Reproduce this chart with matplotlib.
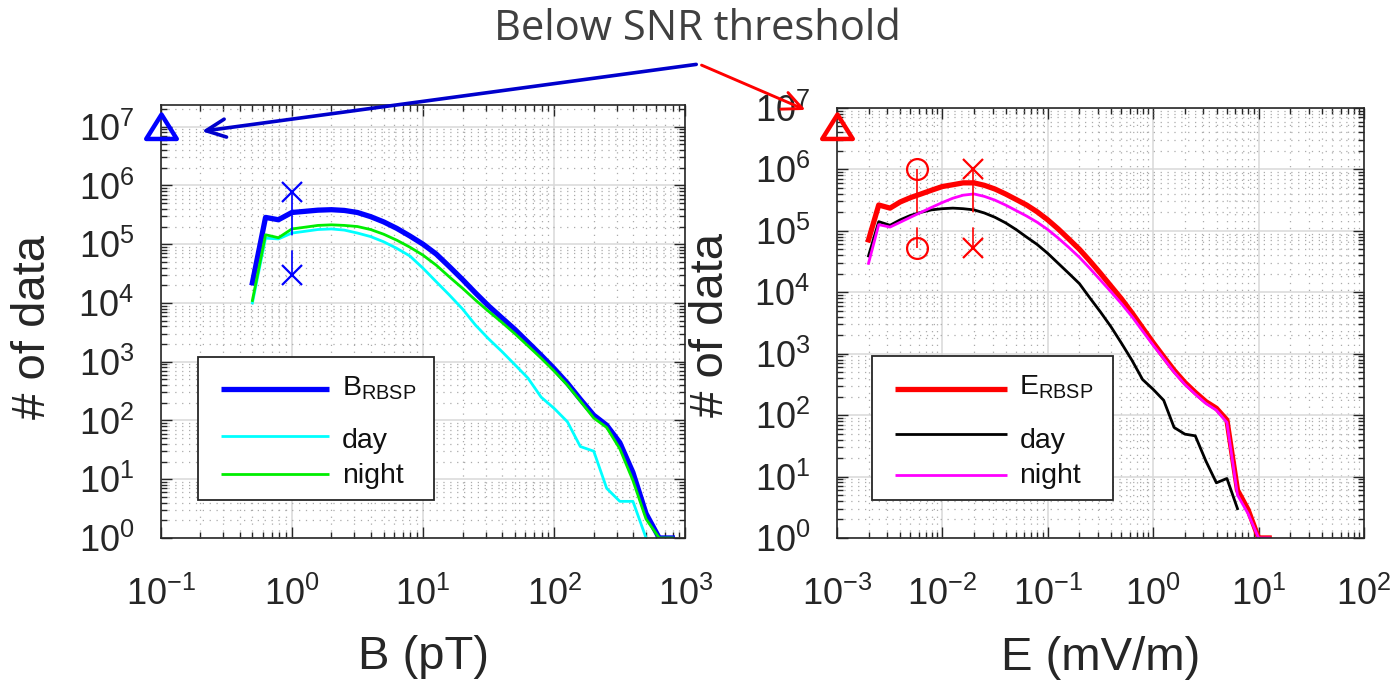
import matplotlib
matplotlib.use("Agg")
import numpy as np
import matplotlib.pyplot as plt
from matplotlib.path import Path
from matplotlib.lines import Line2D
from matplotlib.patches import Rectangle, FancyArrowPatch
from matplotlib.ticker import FixedLocator, LogLocator, NullFormatter

plt.rcParams['font.family'] = ['Liberation Sans', 'DejaVu Sans']
plt.rcParams['mathtext.fontset'] = 'custom'
plt.rcParams['mathtext.rm'] = 'Liberation Sans'
plt.rcParams['mathtext.it'] = 'Liberation Sans:italic'
plt.rcParams['mathtext.bf'] = 'Liberation Sans:bold'
plt.rcParams['mathtext.sf'] = 'Liberation Sans'
plt.rcParams['mathtext.default'] = 'regular'

# ---------------- magnetic field amplitude histogram ----------------
b_amp = [0.50, 0.63, 0.79, 1.00, 1.26, 1.58, 2.00, 2.51, 3.16, 3.98, 5.01,
         6.31, 7.94, 10.0, 12.6, 15.8, 20.0, 25.1, 31.6, 39.8, 50.1, 63.1,
         79.4, 100, 126, 158, 200, 251, 316, 398, 501, 631, 794]
b_all = [2.2e4, 2.86e5, 2.61e5, 3.47e5, 3.63e5, 3.8e5, 3.87e5, 3.76e5, 3.47e5,
         2.95e5, 2.4e5, 1.86e5, 1.38e5, 1.0e5, 6.8e4, 4.2e4, 2.5e4, 1.48e4,
         8.9e3, 5.6e3, 3.55e3, 2.14e3, 1.29e3, 760, 430, 230, 123, 83, 42, 13,
         2.6, 1, 1]
b_day = [1.0e4, 1.27e5, 1.23e5, 1.55e5, 1.66e5, 1.78e5, 1.82e5, 1.74e5, 1.55e5,
         1.35e5, 1.1e5, 8.5e4, 6.3e4, 3.9e4, 2.3e4, 1.38e4, 7.9e3, 4.2e3,
         2.45e3, 1.5e3, 890, 525, 250, 160, 95, 36, 30, 7, 4.2, 4.2, 1,
         np.nan, np.nan]
b_night = [1.1e4, 1.45e5, 1.29e5, 1.82e5, 1.95e5, 2.09e5, 2.14e5, 2.09e5, 2.0e5,
           1.78e5, 1.48e5, 1.17e5, 8.9e4, 6.5e4, 4.4e4, 2.8e4, 1.78e4, 1.12e4,
           7.2e3, 4.7e3, 3.0e3, 1.86e3, 1.15e3, 690, 400, 214, 110, 76, 33, 9.5,
           2.1, 1, 1]
b_snr_amp = 1.0
b_snr_counts = [7.8e5, 3.0e4]
b_below_amp = 0.1
b_below_count = 1.0e7

# ---------------- electric field amplitude histogram ----------------
e_amp = [0.0020, 0.0025, 0.0032, 0.0040, 0.0050, 0.0063, 0.0079, 0.0100,
         0.0126, 0.0158, 0.0200, 0.0251, 0.0316, 0.0398, 0.0501, 0.0631,
         0.0794, 0.100, 0.126, 0.158, 0.200, 0.251, 0.316, 0.398, 0.501,
         0.631, 0.794, 1.00, 1.26, 1.58, 2.00, 2.51, 3.16, 3.98, 5.01, 6.31,
         7.94, 10.0, 12.6]
e_all = [7.1e4, 2.63e5, 2.34e5, 2.95e5, 3.47e5, 3.98e5, 4.57e5, 5.25e5, 5.62e5,
         6.03e5, 6.03e5, 5.5e5, 4.79e5, 3.98e5, 3.24e5, 2.63e5, 2.04e5, 1.51e5,
         1.07e5, 7.4e4, 5.0e4, 3.24e4, 2.04e4, 1.26e4, 7.8e3, 4.6e3, 2.63e3,
         1.51e3, 890, 537, 339, 234, 166, 129, 83, 6.0, 2.9, 1, 1]
e_day = [3.9e4, 1.41e5, 1.23e5, 1.51e5, 1.78e5, 2.0e5, 2.19e5, 2.29e5, 2.34e5,
         2.29e5, 2.19e5, 1.95e5, 1.66e5, 1.35e5, 1.05e5, 7.9e4, 6.0e4, 4.3e4,
         2.95e4, 2.04e4, 1.38e4, 8.1e3, 4.8e3, 2.75e3, 1.48e3, 776, 380, 263,
         174, 63, 49, 46, 18, 7.9, 9.3, 3.0, np.nan, np.nan, np.nan]
e_night = [2.95e4, 1.26e5, 1.15e5, 1.38e5, 1.66e5, 2.0e5, 2.4e5, 2.88e5, 3.39e5,
           3.8e5, 3.98e5, 3.63e5, 3.16e5, 2.63e5, 2.14e5, 1.74e5, 1.38e5,
           1.05e5, 7.6e4, 5.4e4, 3.7e4, 2.45e4, 1.58e4, 1.02e4, 6.5e3, 4.0e3,
           2.34e3, 1.38e3, 830, 500, 316, 219, 155, 120, 76, 5.0, 2.5, 1, 1]
e_snr_amps = [0.0058, 0.0195]
e_snr_counts = [1.0e6, 5.3e4]
e_below_amp = 1.0e-3
e_below_count = 4.85e6

# flattened open triangle used for the "below threshold" marks
tri = Path([(-1.0, -0.75), (1.0, -0.75), (0.0, 0.85), (-1.0, -0.75)],
           [Path.MOVETO, Path.LINETO, Path.LINETO, Path.CLOSEPOLY])

fig = plt.figure(figsize=(13.96, 6.84), dpi=100)
axB = fig.add_axes([0.1151, 0.2135, 0.3759, 0.6330])
axE = fig.add_axes([0.5994, 0.2135, 0.3777, 0.6287])

AX_COL = '#262626'


def style_axes(ax, xdec, ytop):
    ax.set_xscale('log')
    ax.set_yscale('log')
    ax.set_xlim(10.0 ** xdec[0], 10.0 ** xdec[-1])
    ax.set_ylim(1, ytop)
    ax.xaxis.set_major_locator(FixedLocator([10.0 ** d for d in xdec]))
    ax.set_xticklabels([r'$10^{%d}$' % d for d in xdec])
    ydec = list(range(0, 8))
    ax.yaxis.set_major_locator(FixedLocator([10.0 ** d for d in ydec]))
    ax.set_yticklabels([r'$10^{%d}$' % d for d in ydec])
    for axis in (ax.xaxis, ax.yaxis):
        axis.set_minor_locator(LogLocator(base=10, subs=np.arange(2, 10), numticks=100))
        axis.set_minor_formatter(NullFormatter())
    ax.tick_params(which='both', direction='in', top=True, right=True,
                   color=AX_COL, labelcolor='#262626', width=1.0)
    ax.tick_params(which='major', length=8, labelsize=26)
    ax.tick_params(which='minor', length=4)
    ax.tick_params(axis='x', which='major', pad=28)
    ax.tick_params(axis='y', which='major', pad=19)
    ax.grid(which='major', color='#d9d9d9', lw=1.1, ls='-')
    ax.grid(which='minor', color='#ababab', lw=0.9, ls=(0, (1, 4.5)))
    ax.set_axisbelow(True)
    for sp in ax.spines.values():
        sp.set_color(AX_COL)
        sp.set_linewidth(1.2)
    ax.set_ylabel('# of data', fontsize=34, color='#262626')


def draw_key(ax, lines, box, handle_x, text_x, line_ys, base_ys):
    """Boxed key drawn in axes coordinates."""
    ax.add_patch(Rectangle((box[0], box[1]), box[2] - box[0], box[3] - box[1],
                           transform=ax.transAxes, facecolor='white',
                           edgecolor=AX_COL, lw=1.3, zorder=6))
    for ln, ly, by in zip(lines, line_ys, base_ys):
        ax.add_artist(Line2D(handle_x, [ly, ly], transform=ax.transAxes,
                             color=ln.get_color(), lw=ln.get_linewidth(),
                             solid_capstyle='butt', zorder=7))
        ax.text(text_x, by, ln.get_label(), transform=ax.transAxes,
                fontsize=20.5, ha='left', va='baseline', color='#111111',
                zorder=8)


# ---- B panel ----
style_axes(axB, [-1, 0, 1, 2, 3], 10 ** 7.37)
lb = axB.plot(b_amp, b_all, color='#0000ff', lw=3.8, label=r'B$_{RBSP}$')
lc = axB.plot(b_amp, b_day, color='#00ffff', lw=2.0, label='day')
lg = axB.plot(b_amp, b_night, color='#00ee00', lw=2.0, label='night')
axB.plot([b_snr_amp, b_snr_amp], b_snr_counts, color='#0000ff', lw=1.2,
         ls=(0, (26, 9)))
axB.plot([b_snr_amp] * 2, b_snr_counts, ls='none', marker='x', ms=14,
         mew=1.6, color='#0000ff')
axB.plot([b_below_amp], [b_below_count], ls='none', marker=tri, ms=22,
         mew=3.2, mfc='none', mec='#0000ff', clip_on=False, zorder=5)
axB.set_xlabel('B (pT)', fontsize=34, color='#262626')
axB.xaxis.set_label_coords(0.5, -0.225)
axB.yaxis.set_label_coords(-0.202, 0.488)
draw_key(axB, [lb[0], lc[0], lg[0]], (0.0703, 0.0878, 0.5201, 0.418),
         (0.1149, 0.3217), 0.3455, (0.343, 0.236, 0.148),
         (0.329, 0.208, 0.127))

# ---- E panel ----
style_axes(axE, [-3, -2, -1, 0, 1, 2], 1e7)
lr = axE.plot(e_amp, e_all, color='#ff0000', lw=3.8, label=r'E$_{RBSP}$')
lk = axE.plot(e_amp, e_day, color='#000000', lw=2.0, label='day')
lm = axE.plot(e_amp, e_night, color='#ff00ff', lw=2.0, label='night')
for amp, mk in zip(e_snr_amps, ['o', 'x']):
    axE.plot([amp, amp], e_snr_counts, color='#ff0000', lw=1.2, ls=(0, (26, 9)))
    axE.plot([amp] * 2, e_snr_counts, ls='none', marker=mk, ms=15, mew=1.6,
             mfc='none', mec='#ff0000')
axE.plot([e_below_amp], [e_below_count], ls='none', marker=tri, ms=22,
         mew=3.2, mfc='none', mec='#ff0000', clip_on=False, zorder=5)
axE.set_xlabel('E (mV/m)', fontsize=34, color='#262626')
axE.xaxis.set_label_coords(0.5, -0.227)
axE.yaxis.set_label_coords(-0.197, 0.495)
draw_key(axE, [lr[0], lk[0], lm[0]], (0.0665, 0.0884, 0.5238, 0.4228),
         (0.111, 0.3222), 0.3464, (0.347, 0.241, 0.1465),
         (0.333, 0.209, 0.128))

# ---- annotation ----
fig.text(0.4993, 0.958, 'Below SNR threshold', ha='center', va='center',
         fontsize=30, family=['Open Sans', 'DejaVu Sans'], color='#404040')
start = (0.5007, 0.9064)
fig.add_artist(FancyArrowPatch(
    start, (0.1426, 0.8075), transform=fig.transFigure,
    arrowstyle='->,head_length=1.4,head_width=0.65', mutation_scale=10,
    color='#0000cc', lw=2.6))
fig.add_artist(FancyArrowPatch(
    start, (0.5788, 0.8377), transform=fig.transFigure,
    arrowstyle='->,head_length=1.4,head_width=0.65', mutation_scale=10,
    color='#ff0000', lw=2.1))

fig.savefig('out.png', dpi=100)
